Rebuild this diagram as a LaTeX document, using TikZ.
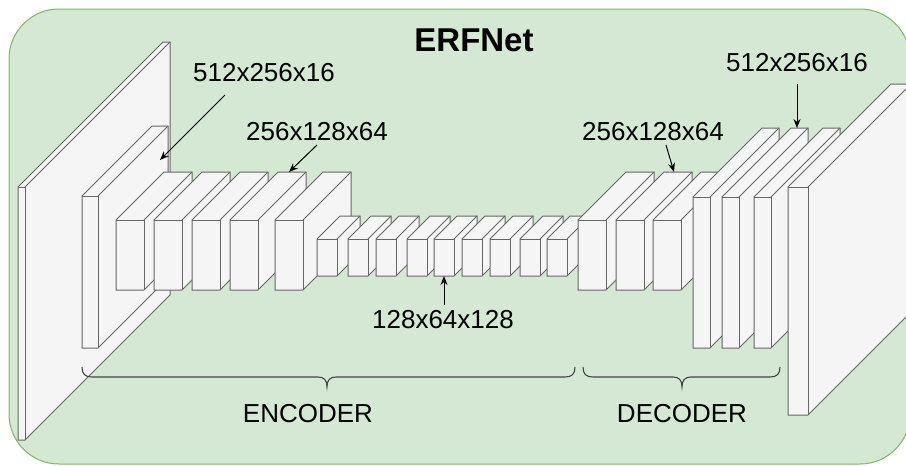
\documentclass[tikz,border=0pt]{standalone}
\usepackage{fontspec}
\newfontfamily\arialfont{Liberation Sans}
\usetikzlibrary{arrows.meta}
\definecolor{bggreen}{HTML}{D5E8D4}
\definecolor{bgstroke}{HTML}{82B366}
\definecolor{cubefillc}{HTML}{F5F5F5}
\definecolor{cubestroke}{HTML}{666666}
\definecolor{bracec}{HTML}{444444}
\tikzset{
  cubeface/.style={fill=cubefillc, draw=cubestroke, line width=1pt, line join=miter},
  cubeedge/.style={draw=cubestroke, line width=1pt},
  lbl/.style={font=\arialfont\fontsize{26}{30}\selectfont, inner sep=0pt, text=black},
  titlelbl/.style={font=\arialfont\bfseries\fontsize{33}{38}\selectfont, inner sep=0pt, text=black},
  pointer/.style={draw=black, line width=1pt, -{Stealth[length=9pt,width=7pt]}},
  bracepath/.style={draw=bracec, line width=1.1pt},
}
% #1 x0, #2 back top y, #3 front width, #4 depth, #5 bottom y
\newcommand\drawcube[5]{%
  \path[cubeface] ({#1},{#2+#4}) -- ({#1+#4},{#2}) -- ({#1+#3+#4},{#2}) -- ({#1+#3+#4},{#5-#4}) -- ({#1+#3},{#5}) -- ({#1},{#5}) -- cycle;
  \draw[cubeedge] ({#1},{#2+#4}) -- ({#1+#3},{#2+#4}) -- ({#1+#3},{#5});
  \draw[cubeedge] ({#1+#3},{#2+#4}) -- ({#1+#3+#4},{#2});
}
\begin{document}
\begin{tikzpicture}[x=1pt,y=-1pt]
\useasboundingbox (0,0) rectangle (906,466);
\clip (0,0) rectangle (906,466);
% background panel
\path[fill=bggreen, draw=bgstroke, line width=1pt, rounded corners=50pt] (9,9) rectangle (910,464);
% input slab
\drawcube{18}{42}{7}{145}{440}
% encoder
\drawcube{82}{126}{16}{70}{348}
\foreach \xx in {116,154,192,230,275} {\drawcube{\xx}{172}{28}{48}{290}}
\foreach \xx in {317,348,376,407,434,462,490,520,547} {\drawcube{\xx}{216}{20}{23}{276}}
% decoder
\foreach \xx in {578,616,653} {\drawcube{\xx}{172}{28}{48}{290}}
\foreach \xx in {693,722,754} {\drawcube{\xx}{128}{17}{69}{348}}
% output slab
\drawcube{788}{84}{20}{103}{415}
% title and labels
\node[titlelbl] (title) at (474,40) {ERFNet};
\node[lbl] (l512a) at (264,72.5) {512x256x16};
\node[lbl] (l256a) at (317,131.5) {256x128x64};
\node[lbl] (l128) at (443,320) {128x64x128};
\node[lbl] (l256b) at (653,131.5) {256x128x64};
\node[lbl] (l512b) at (797,62.5) {512x256x16};
\node[lbl] (enc) at (308,414) {ENCODER};
\node[lbl] (dec) at (682,414) {DECODER};
% arrow ends
\coordinate (s1) at (225,95);   \coordinate (t1) at (160,160);
\coordinate (s2) at (317,145);  \coordinate (t2) at (289,172);
\coordinate (s3) at (444,305);  \coordinate (t3) at (444,276);
\coordinate (s4) at (666,145);  \coordinate (t4) at (674,172);
\coordinate (s5) at (797,84);   \coordinate (t5) at (797,128);
\draw[pointer] (s1) -- (t1);
\draw[pointer] (s2) -- (t2);
\draw[pointer] (s3) -- (t3);
\draw[pointer] (s4) -- (t4);
\draw[pointer] (s5) -- (t5);
% braces
\coordinate (eb1) at (82,367); \coordinate (eb2) at (575,367); \coordinate (ebt) at (327,387);
\coordinate (db1) at (583,367); \coordinate (db2) at (780,367); \coordinate (dbt) at (682,387);
\draw[bracepath] (eb1) .. controls (82,374) and (85,377) .. (92,377) -- (318,377)
  .. controls (324,377) and (327,380) .. (ebt) .. controls (327,380) and (330,377) .. (336,377)
  -- (565,377) .. controls (572,377) and (575,374) .. (eb2);
\draw[bracepath] (db1) .. controls (583,374) and (586,377) .. (593,377) -- (673,377)
  .. controls (679,377) and (682,380) .. (dbt) .. controls (682,380) and (685,377) .. (691,377)
  -- (770,377) .. controls (777,377) and (780,374) .. (db2);
\end{tikzpicture}
\end{document}
